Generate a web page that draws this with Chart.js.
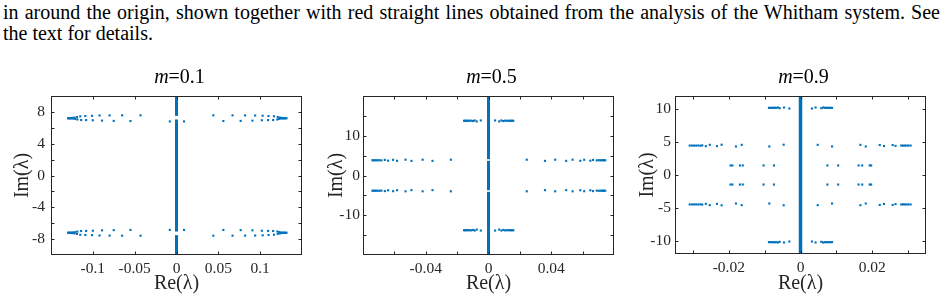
<!DOCTYPE html>
<html>
<head>
<meta charset="utf-8">
<script src="https://cdn.jsdelivr.net/npm/chart.js@4.4.0/dist/chart.umd.min.js"></script>
<style>
  body { margin: 0; background: #fff; width: 947px; height: 301px; overflow: hidden; position: relative; font-family: "Liberation Serif", serif; }
  .cap { position: absolute; left: 3px; width: 937px; font-size: 20px; line-height: 21px; color: #000; }
  #l1 { top: 2px; text-align: justify; text-align-last: justify; }
  #l2 { top: 23px; }
  .plot { position: absolute; top: 65px; }
</style>
</head>
<body>
<div class="cap" id="l1">in around the origin, shown together with red straight lines obtained from the analysis of the Whitham system. See</div>
<div class="cap" id="l2">the text for details.</div>
<div class="plot" style="left:0px"><canvas id="c1" width="310" height="236"></canvas></div>
<div class="plot" style="left:315px"><canvas id="c2" width="310" height="236"></canvas></div>
<div class="plot" style="left:630px"><canvas id="c3" width="317" height="236"></canvas></div>
<script>
// ---- m = 0.1 ----
const m1Re = [
  -0.043, -0.065, -0.080, -0.092, -0.101, -0.109, -0.115, -0.119, -0.122, -0.124, -0.126, -0.128, -0.1295,
  -0.055, -0.075, -0.089, -0.100, -0.108, -0.114, -0.1185, -0.121, -0.123, -0.125, -0.127, -0.129,
  -0.008, 0.009,
  0.044, 0.067, 0.082, 0.094, 0.103, 0.110, 0.1165, 0.121, 0.1235, 0.1255, 0.1275, 0.129, 0.1315,
  0.056, 0.0767, 0.0907, 0.102, 0.1095, 0.1155, 0.1205, 0.1225, 0.1245, 0.1265, 0.1285, 0.1305
];
const m1ImTop = [
  7.57, 7.57, 7.56, 7.55, 7.5, 7.48, 7.45, 7.35, 7.28, 7.24, 7.22, 7.21, 7.2,
  6.85, 6.87, 6.9, 6.95, 6.97, 6.98, 7.05, 7.12, 7.16, 7.18, 7.19, 7.2,
  6.8, 6.8,
  7.57, 7.57, 7.56, 7.55, 7.52, 7.48, 7.45, 7.35, 7.28, 7.24, 7.22, 7.21, 7.2,
  6.85, 6.87, 6.9, 6.95, 6.97, 6.98, 7.05, 7.12, 7.16, 7.18, 7.19, 7.2
];
const m1ImBot = [
  -7.57, -7.57, -7.56, -7.55, -7.5, -7.48, -7.45, -7.35, -7.28, -7.24, -7.22, -7.21, -7.2,
  -6.85, -6.87, -6.9, -6.95, -6.97, -6.98, -7.05, -7.12, -7.16, -7.18, -7.19, -7.2,
  -6.85, -6.85,
  -7.57, -7.57, -7.56, -7.55, -7.52, -7.48, -7.45, -7.35, -7.28, -7.24, -7.22, -7.21, -7.2,
  -6.85, -6.87, -6.9, -6.95, -6.97, -6.98, -7.05, -7.12, -7.16, -7.18, -7.19, -7.2
];
const m1Line = [[-10, -7.5], [-7.05, 7.05], [7.5, 10]];
const m1XMarks = [-0.1, -0.05, 0, 0.05, 0.1];
const m1YMarks = [-8, -6, -4, -2, 0, 2, 4, 6, 8];
const m1XTicks = [-0.1, -0.05, 0, 0.05, 0.1];
const m1YTicks = [-8, -4, 0, 4, 8];

// ---- m = 0.5 ----
const m2ReMid = [
  -0.024, -0.0357, -0.042, -0.0491, -0.0529, -0.0583, -0.0608, -0.064, -0.0661, -0.0683, -0.0695, -0.0706, -0.0716, -0.0725, -0.0733, -0.074,
  0.0244, 0.036, 0.0425, 0.0495, 0.0536, 0.0585, 0.061, 0.0649, 0.0666, 0.069, 0.0702, 0.0713, 0.0722, 0.073, 0.0737, 0.0744
];
const m2ImMidTop = [
  3.98, 3.68, 3.98, 3.68, 3.98, 3.7, 3.95, 3.72, 3.92, 3.8, 3.85, 3.82, 3.84, 3.83, 3.83, 3.83,
  3.98, 3.68, 3.98, 3.68, 3.98, 3.7, 3.95, 3.72, 3.92, 3.8, 3.85, 3.82, 3.84, 3.83, 3.83, 3.83
];
const m2ImMidBot = [
  -3.98, -3.68, -3.98, -3.68, -3.98, -3.7, -3.95, -3.72, -3.92, -3.8, -3.85, -3.82, -3.84, -3.83, -3.83, -3.83,
  -3.98, -3.68, -3.98, -3.68, -3.98, -3.7, -3.95, -3.72, -3.92, -3.8, -3.85, -3.82, -3.84, -3.83, -3.83, -3.83
];
const m2ReOut = [
  -0.0049, -0.0075, -0.0088, -0.0098, -0.011, -0.012, -0.0128, -0.0136, -0.0143, -0.015, -0.0156,
  0.0042, 0.0068, 0.0082, 0.0094, 0.0106, 0.0117, 0.0127, 0.0136, 0.0144, 0.0151, 0.0158
];
const m2ImOutTop = [
  13.85, 13.6, 13.85, 13.7, 13.8, 13.75, 13.78, 13.76, 13.77, 13.77, 13.77,
  13.85, 13.6, 13.85, 13.7, 13.8, 13.75, 13.78, 13.76, 13.77, 13.77, 13.77
];
const m2ImOutBot = [
  -13.85, -13.6, -13.85, -13.7, -13.8, -13.75, -13.78, -13.76, -13.77, -13.77, -13.77,
  -13.85, -13.6, -13.85, -13.7, -13.8, -13.75, -13.78, -13.76, -13.77, -13.77, -13.77
];
const m2Line = [[-20, -4.1], [-3.7, 3.7], [4.1, 20]];
const m2XMarks = [-0.06, -0.04, -0.02, 0, 0.02, 0.04, 0.06];
const m2YMarks = [-15, -10, -5, 0, 5, 10, 15];
const m2XTicks = [-0.04, 0, 0.04];
const m2YTicks = [-10, 0, 10];

// ---- m = 0.9 ----
const m3ReA = [
  -0.0031, -0.0046, -0.0058, -0.0063, -0.0068, -0.0072, -0.0076, -0.008, -0.0084, -0.0088,
  0.0032, 0.0042, 0.0058, 0.0063, 0.0068, 0.0072, 0.0076, 0.008, 0.0084, 0.0088
];
const m3ImATop = [10.1, 10.25, 10.15, 10.25, 10.2, 10.22, 10.2, 10.2, 10.2, 10.2, 10.1, 10.25, 10.15, 10.25, 10.2, 10.22, 10.2, 10.2, 10.2, 10.2];
const m3ImABot = [-10.1, -10.25, -10.15, -10.25, -10.2, -10.22, -10.2, -10.2, -10.2, -10.2, -10.1, -10.25, -10.15, -10.25, -10.2, -10.22, -10.2, -10.2, -10.2, -10.2];
const m3ReB = [
  -0.0047, -0.0087, -0.0164, -0.018, -0.022, -0.0233, -0.0253, -0.0264, -0.0274, -0.0279, -0.0285, -0.0291, -0.0297, -0.0303, -0.0309,
  0.0048, 0.0088, 0.0167, 0.0182, 0.0221, 0.0233, 0.0257, 0.0265, 0.0281, 0.0286, 0.0291, 0.0296, 0.0301, 0.0307
];
const m3ImBTop = [
  4.6, 4.33, 4.58, 4.33, 4.6, 4.38, 4.58, 4.38, 4.5, 4.45, 4.48, 4.46, 4.47, 4.47, 4.47,
  4.58, 4.33, 4.58, 4.33, 4.55, 4.4, 4.55, 4.42, 4.48, 4.46, 4.47, 4.47, 4.47, 4.47
];
const m3ImBBot = [
  -4.6, -4.33, -4.58, -4.33, -4.6, -4.38, -4.58, -4.38, -4.5, -4.45, -4.48, -4.46, -4.47, -4.47, -4.47,
  -4.58, -4.33, -4.58, -4.33, -4.55, -4.4, -4.55, -4.42, -4.48, -4.46, -4.47, -4.47, -4.47, -4.47
];
const m3ReC = [-0.0074, -0.0103, -0.0161, -0.0169, -0.019, -0.0195, 0.0075, 0.0105, 0.0162, 0.0172, 0.0193, 0.0197];
const m3ImCTop = [1.45, 1.45, 1.45, 1.45, 1.45, 1.45, 1.45, 1.45, 1.45, 1.45, 1.45, 1.45];
const m3ImCBot = [-1.45, -1.45, -1.45, -1.45, -1.45, -1.45, -1.45, -1.45, -1.45, -1.45, -1.45, -1.45];
const m3Line = [[-12, 12]];
const m3XMarks = [-0.03, -0.02, -0.01, 0, 0.01, 0.02, 0.03];
const m3YMarks = [-10, -5, 0, 5, 10];
const m3XTicks = [-0.02, 0, 0.02];
const m3YTicks = [-10, -5, 0, 5, 10];

const BLUE = 'rgb(0,114,189)';
const INK = '#262626';
const FONT = '"Liberation Serif", "Times New Roman", serif';

function pts(re, im) { return re.map((x, i) => ({ x: x, y: im[i] })); }

function labelsFrom(list) {
  return v => {
    const hit = list.find(t => Math.abs(t - v) < 1e-9);
    return hit === undefined ? '' : String(hit);
  };
}

// box, inward ticks on all sides and the "m=..." title
const framePlugin = {
  id: 'frame',
  afterDraw(chart, args, opts) {
    const { ctx, chartArea: a, scales: { x, y } } = chart;
    const L = Math.round(a.left) + 0.5, R = Math.round(a.right) - 0.5;
    const T = Math.round(a.top) + 0.5, B = Math.round(a.bottom) - 0.5;
    ctx.save();
    ctx.strokeStyle = INK;
    ctx.lineWidth = 1;
    ctx.beginPath();
    x.ticks.forEach(t => {
      const p = Math.round(x.getPixelForValue(t.value)) + 0.5;
      ctx.moveTo(p, B); ctx.lineTo(p, B - 3);
      ctx.moveTo(p, T); ctx.lineTo(p, T + 3);
    });
    y.ticks.forEach(t => {
      const p = Math.round(y.getPixelForValue(t.value)) + 0.5;
      ctx.moveTo(L, p); ctx.lineTo(L + 3, p);
      ctx.moveTo(R, p); ctx.lineTo(R - 3, p);
    });
    ctx.stroke();
    ctx.strokeRect(L, T, R - L, B - T);

    ctx.fillStyle = '#000';
    ctx.textBaseline = 'alphabetic';
    ctx.font = 'italic 20px ' + FONT;
    const w1 = ctx.measureText('m').width;
    ctx.font = '20px ' + FONT;
    const rest = '=' + opts.m;
    const w2 = ctx.measureText(rest).width;
    const x0 = (a.left + a.right) / 2 + 3 - (w1 + w2) / 2;
    const yb = a.top - 13;
    ctx.font = 'italic 20px ' + FONT;
    ctx.fillText('m', x0, yb);
    ctx.font = '20px ' + FONT;
    ctx.fillText(rest, x0 + w1, yb);
    ctx.restore();
  }
};

function makeChart(id, cfg) {
  const datasets = [];
  cfg.line.forEach(seg => {
    datasets.push({
      data: [{ x: 0, y: seg[0] }, { x: 0, y: seg[1] }],
      showLine: true, borderColor: BLUE, borderWidth: cfg.lw, pointRadius: 0, borderCapStyle: 'butt'
    });
  });
  datasets.push({
    data: cfg.points,
    pointStyle: 'rect', pointRadius: 1.5, pointBorderWidth: 0,
    pointBackgroundColor: BLUE, borderColor: BLUE, showLine: false
  });
  return new Chart(document.getElementById(id), {
    type: 'scatter',
    data: { datasets: datasets },
    plugins: [framePlugin],
    options: {
      responsive: false,
      animation: false,
      devicePixelRatio: 1,
      layout: { padding: { top: 31, right: cfg.padR, left: 0, bottom: 0 } },
      plugins: { legend: { display: false }, tooltip: { enabled: false }, frame: { m: cfg.m } },
      scales: {
        x: {
          type: 'linear', min: cfg.xMin, max: cfg.xMax,
          grid: { display: false, drawTicks: false }, border: { display: false },
          ticks: { autoSkip: false, maxRotation: 0, padding: 5, color: INK,
                   font: { family: FONT, size: 15.5 }, callback: labelsFrom(cfg.xTicks) },
          afterBuildTicks: s => { s.ticks = cfg.xMarks.map(v => ({ value: v })); },
          title: { display: true, text: 'Re(λ)', color: INK, font: { family: FONT, size: 20 },
                   padding: { top: 0, bottom: 5 } },
          afterFit: s => { s.height = cfg.xH; }
        },
        y: {
          type: 'linear', min: cfg.yMin, max: cfg.yMax,
          grid: { display: false, drawTicks: false }, border: { display: false },
          ticks: { autoSkip: false, padding: cfg.yPad, color: INK,
                   font: { family: FONT, size: 15.5 }, callback: labelsFrom(cfg.yTicks) },
          afterBuildTicks: s => { s.ticks = cfg.yMarks.map(v => ({ value: v })); },
          title: { display: true, text: 'Im(λ)', color: INK, font: { family: FONT, size: 20 },
                   padding: { top: cfg.yTitle, bottom: 0 } },
          afterFit: s => { s.width = cfg.yW; }
        }
      }
    }
  });
}

makeChart('c1', {
  m: '0.1', lw: 3, line: m1Line,
  points: pts(m1Re, m1ImTop).concat(pts(m1Re, m1ImBot)),
  xMin: -0.15, xMax: 0.15, xMarks: m1XMarks, xTicks: m1XTicks,
  yMin: -10, yMax: 10, yMarks: m1YMarks, yTicks: m1YTicks,
  yW: 51, yPad: 6, yTitle: 11, xH: 46, padR: 8
});

makeChart('c2', {
  m: '0.5', lw: 3, line: m2Line,
  points: pts(m2ReMid, m2ImMidTop).concat(pts(m2ReMid, m2ImMidBot), pts(m2ReOut, m2ImOutTop), pts(m2ReOut, m2ImOutBot)),
  xMin: -0.08, xMax: 0.08, xMarks: m2XMarks, xTicks: m2XTicks,
  yMin: -20, yMax: 20, yMarks: m2YMarks, yTicks: m2YTicks,
  yW: 48, yPad: 3, yTitle: 10, xH: 46, padR: 11
});

makeChart('c3', {
  m: '0.9', lw: 3.5, line: m3Line,
  points: pts(m3ReA, m3ImATop).concat(pts(m3ReA, m3ImABot), pts(m3ReB, m3ImBTop), pts(m3ReB, m3ImBBot),
                                      pts(m3ReC, m3ImCTop), pts(m3ReC, m3ImCBot)),
  xMin: -0.035, xMax: 0.035, xMarks: m3XMarks, xTicks: m3XTicks,
  yMin: -12, yMax: 12, yMarks: m3YMarks, yTicks: m3YTicks,
  yW: 45, yPad: 4, yTitle: 6, xH: 47, padR: 21
});
</script>
</body>
</html>
